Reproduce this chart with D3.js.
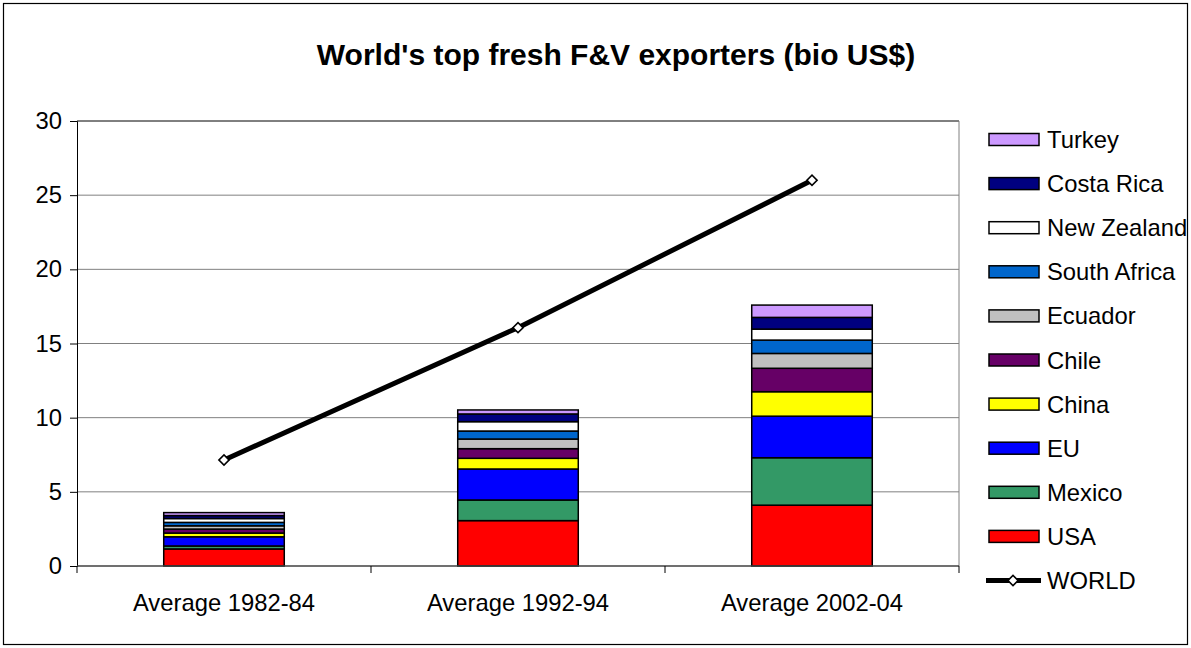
<!DOCTYPE html>
<html>
<head>
<meta charset="utf-8">
<script src="https://cdn.jsdelivr.net/npm/d3@7"></script>
<style>
  html, body { margin: 0; padding: 0; background: #fff; }
  text { font-family: "Liberation Sans", Arial, sans-serif; }
</style>
</head>
<body>
<svg id="chart" width="1191" height="648"></svg>
<script>
// ---- data ----
const categories = ["Average 1982-84", "Average 1992-94", "Average 2002-04"];
const seriesNames = ["USA", "Mexico", "EU", "China", "Chile", "Ecuador", "South Africa", "New Zealand", "Costa Rica", "Turkey"];
const USA          = [1.15, 3.06, 4.10];
const Mexico       = [0.20, 1.39, 3.20];
const EU           = [0.62, 2.09, 2.80];
const China        = [0.25, 0.72, 1.65];
const Chile        = [0.27, 0.65, 1.58];
const Ecuador      = [0.22, 0.65, 1.00];
const SouthAfrica  = [0.23, 0.54, 0.90];
const NewZealand   = [0.26, 0.63, 0.74];
const CostaRica    = [0.20, 0.52, 0.79];
const Turkey       = [0.20, 0.27, 0.83];
const WORLD        = [7.15, 16.07, 26.0];
const yTicks = [0, 5, 10, 15, 20, 25, 30];
const title = "World's top fresh F&V exporters (bio US$)";

const seriesValues = [USA, Mexico, EU, China, Chile, Ecuador, SouthAfrica, NewZealand, CostaRica, Turkey];
const colors = ["#FF0000", "#339966", "#0000FF", "#FFFF00", "#660066", "#C0C0C0", "#0066CC", "#FFFFFF", "#000080", "#CC99FF"];

// ---- layout ----
const svg = d3.select("#chart");
const W = 1191, H = 648;
const plot = { left: 77, top: 121, right: 959, bottom: 566 };
const FS = 23.8;

svg.append("rect").attr("x", 3.5).attr("y", 3.5).attr("width", W - 7).attr("height", H - 7)
  .attr("fill", "#fff").attr("stroke", "#000").attr("stroke-width", 1.2);

svg.append("text").attr("x", 616).attr("y", 65).attr("text-anchor", "middle")
  .attr("font-size", 30).attr("font-weight", "bold").text(title);

const x = d3.scaleBand().domain(categories).range([plot.left, plot.right]).paddingInner(0.59).paddingOuter(0.295);
const y = d3.scaleLinear().domain([0, 30]).range([plot.bottom, plot.top]);

// gridlines
svg.append("g").selectAll("line").data(yTicks.filter(t => t > 0)).join("line")
  .attr("x1", plot.left).attr("x2", plot.right)
  .attr("y1", d => y(d)).attr("y2", d => y(d))
  .attr("stroke", d => d === 30 ? "#000" : "#808080").attr("stroke-width", 1);

// right border of plot
svg.append("line").attr("x1", plot.right).attr("x2", plot.right).attr("y1", plot.top).attr("y2", plot.bottom)
  .attr("stroke", "#808080").attr("stroke-width", 1);

// y axis
const yAxis = d3.axisLeft(y).tickValues(yTicks).tickSize(7).tickPadding(8);
const gy = svg.append("g").attr("transform", `translate(${plot.left},0)`).call(yAxis);
gy.select(".domain").attr("stroke", "#000");
gy.selectAll(".tick line").attr("stroke", "#000");
gy.selectAll("text").attr("font-size", FS).attr("fill", "#000").attr("font-family", "Liberation Sans, Arial, sans-serif");

// stacked bars
const stackData = categories.map((c, i) => {
  const o = { cat: c };
  seriesNames.forEach((s, k) => o[s] = seriesValues[k][i]);
  return o;
});
const stack = d3.stack().keys(seriesNames)(stackData);
svg.append("g").selectAll("g").data(stack).join("g")
  .attr("fill", (d, i) => colors[i])
  .selectAll("rect").data(d => d).join("rect")
  .attr("x", d => x(d.data.cat))
  .attr("width", x.bandwidth())
  .attr("y", d => y(d[1]))
  .attr("height", d => y(d[0]) - y(d[1]))
  .attr("stroke", "#000").attr("stroke-width", 1.5);

// x axis
const xAxisLine = svg.append("g").attr("transform", `translate(0,${plot.bottom})`);
xAxisLine.append("line").attr("x1", plot.left).attr("x2", plot.right).attr("stroke", "#404040").attr("stroke-width", 1.5);
const bounds = [plot.left, ...categories.map(c => x(c) + x.bandwidth() / 2 + x.step() / 2)];
xAxisLine.selectAll("line.tk").data(bounds).join("line").attr("class", "tk")
  .attr("x1", d => d).attr("x2", d => d).attr("y1", 0).attr("y2", 7).attr("stroke", "#000");
xAxisLine.selectAll("text").data(categories).join("text")
  .attr("x", d => x(d) + x.bandwidth() / 2).attr("y", 45)
  .attr("text-anchor", "middle").attr("font-size", FS).text(d => d);

// WORLD line
const line = d3.line().x((d, i) => x(categories[i]) + x.bandwidth() / 2).y(d => y(d));
svg.append("path").datum(WORLD).attr("d", line).attr("fill", "none")
  .attr("stroke", "#000").attr("stroke-width", 5);
const marker = d3.symbol().type(d3.symbolSquare).size(52);
svg.append("g").selectAll("path").data(WORLD).join("path")
  .attr("transform", (d, i) => `translate(${x(categories[i]) + x.bandwidth() / 2},${y(d)}) rotate(45)`)
  .attr("d", marker).attr("fill", "#fff").attr("stroke", "#000").attr("stroke-width", 1.6);

// legend
const legendItems = seriesNames.map((s, i) => ({ name: s, color: colors[i] })).reverse();
const lg = svg.append("g");
const ly0 = 139.5, lstep = 44.1;
legendItems.forEach((it, i) => {
  const cy = ly0 + i * lstep;
  lg.append("rect").attr("x", 989).attr("y", cy - 6).attr("width", 50).attr("height", 12)
    .attr("fill", it.color).attr("stroke", "#000").attr("stroke-width", 1.5);
  lg.append("text").attr("x", 1047).attr("y", cy + 8.5).attr("font-size", FS).text(it.name);
});
const wy = ly0 + legendItems.length * lstep;
lg.append("line").attr("x1", 986).attr("x2", 1041).attr("y1", wy).attr("y2", wy).attr("stroke", "#000").attr("stroke-width", 5);
lg.append("path").attr("transform", `translate(1013,${wy}) rotate(45)`).attr("d", marker)
  .attr("fill", "#fff").attr("stroke", "#000").attr("stroke-width", 1.6);
lg.append("text").attr("x", 1047).attr("y", wy + 8.5).attr("font-size", FS).text("WORLD");
</script>
</body>
</html>
